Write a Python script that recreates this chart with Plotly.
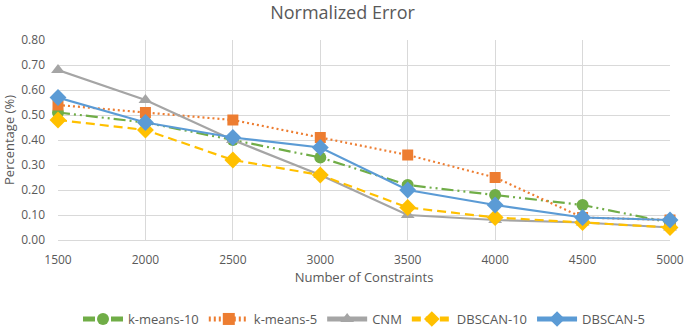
import plotly.graph_objects as go

constraints = [1500, 2000, 2500, 3000, 3500, 4000, 4500, 5000]
kmeans10 = [0.51, 0.47, 0.40, 0.33, 0.22, 0.18, 0.14, 0.07]
kmeans5 = [0.54, 0.51, 0.48, 0.41, 0.34, 0.25, 0.09, 0.08]
cnm = [0.68, 0.56, 0.40, 0.26, 0.10, 0.08, 0.07, 0.05]
dbscan10 = [0.48, 0.44, 0.32, 0.26, 0.13, 0.09, 0.07, 0.05]
dbscan5 = [0.57, 0.47, 0.41, 0.37, 0.20, 0.14, 0.09, 0.08]
y_ticks = [0.0, 0.1, 0.2, 0.3, 0.4, 0.5, 0.6, 0.7, 0.8]

series = [
    ("k-means-10", kmeans10, "#70AD47", "12px,4px,2px,4px,2px,4px", "circle", 12),
    ("k-means-5", kmeans5, "#ED7D31", "2px,3px", "square", 11),
    ("CNM", cnm, "#A5A5A5", "solid", "triangle-up", 12),
    ("DBSCAN-10", dbscan10, "#FFC000", "9px,5px", "diamond", 13),
    ("DBSCAN-5", dbscan5, "#5B9BD5", "solid", "diamond", 13),
]

fig = go.Figure()
for name, vals, color, dash, sym, size in series:
    fig.add_trace(go.Scatter(
        x=constraints, y=vals, name=name, mode="lines+markers",
        line=dict(color=color, width=2.2, dash=dash),
        marker=dict(color=color, symbol=sym, size=size),
        cliponaxis=False,
    ))

font_fam = "Open Sans, Liberation Sans, sans-serif"
fig.update_layout(
    width=685, height=327,
    paper_bgcolor="white", plot_bgcolor="white",
    margin=dict(l=58, r=15, t=40, b=87, autoexpand=False),
    title=dict(text="Normalized Error", x=0.5, xanchor="center", y=1 - 13 / 327, yanchor="middle",
               font=dict(family=font_fam, size=18, color="#595959")),
    font=dict(family=font_fam, size=12, color="#595959"),
    xaxis=dict(range=[1500, 5000], tickmode="array", tickvals=constraints,
               ticktext=[str(c) for c in constraints], automargin=False,
               showgrid=True, gridcolor="#D9D9D9", gridwidth=1,
               showline=True, linecolor="#D9D9D9", linewidth=1,
               zeroline=False, ticks="", ticklabelstandoff=9,
               title=dict(text="Number of Constraints", font=dict(size=13, color="#595959"), standoff=4),
               tickfont=dict(size=12, color="#595959")),
    yaxis=dict(range=[0, 0.8], tickmode="array", tickvals=y_ticks,
               ticktext=[f"{v:.2f}" for v in y_ticks], automargin=False,
               showgrid=True, gridcolor="#D9D9D9", gridwidth=1,
               showline=False, zeroline=False, ticks="", ticklabelstandoff=12,
               title=dict(text="Percentage (%)", font=dict(size=13, color="#595959"), standoff=4),
               tickfont=dict(size=12, color="#595959")),
    legend=dict(orientation="h", x=0.5, xanchor="center", y=-0.32, yanchor="top",
                font=dict(size=13, color="#595959"), itemwidth=40, itemsizing="constant"),
    showlegend=True,
)

fig.write_html("out.html", config={"displayModeBar": False},
               post_script="document.body.style.margin='0';")
